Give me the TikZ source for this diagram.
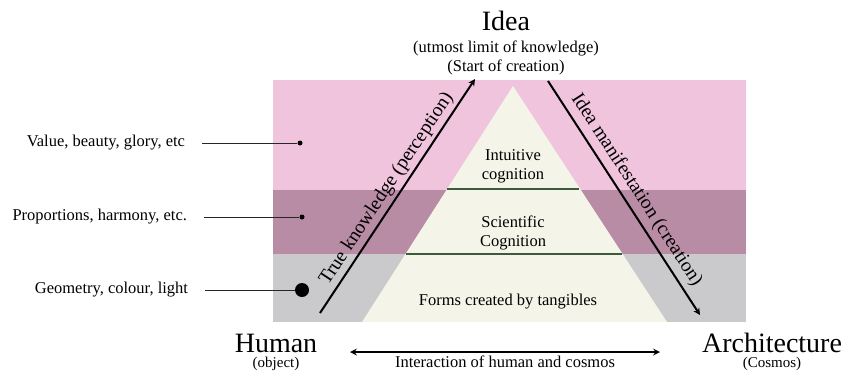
\documentclass[tikz,border=0pt]{standalone}
\usepackage{fontspec}
\setmainfont{Liberation Serif}
\usetikzlibrary{arrows,positioning}

\definecolor{toppink}{HTML}{EFC4DC}
\definecolor{midmauve}{HTML}{B98CA5}
\definecolor{lowgrey}{HTML}{CACACD}
\definecolor{cream}{HTML}{F4F5E8}
\definecolor{layergreen}{HTML}{3C5A3C}

\begin{document}
\begin{tikzpicture}[
	x = 1pt, y = -1pt, % pixel-like units, y downwards
	> = stealth, % arrow head style
	T/.style={inner sep=0pt, font=\fontsize{28}{30}\selectfont},                 % big titles
	S/.style={inner sep=0pt, font=\fontsize{15}{17}\selectfont},                 % small captions
	L/.style={inner sep=1pt, outer xsep=16pt, font=\fontsize{16.5}{18}\selectfont}, % level labels
	C/.style={inner sep=0pt, align=center, font=\fontsize{16.5}{19}\selectfont},  % text in pyramid
	R/.style={sloped, above, font=\fontsize{19.5}{21}\selectfont},               % text along arrows
	dot/.style={circle, fill=black, inner sep=0pt, minimum size=5pt},
	bigdot/.style={circle, fill=black, inner sep=0pt, minimum size=14pt},
	pointer/.style={semithick, black!85},
	flow/.style={->, line width=2pt},
	layer/.style={line width=1.5pt, layergreen},
	]
	\useasboundingbox (0,0) rectangle (845,376);

	% Coloured bands
	\fill[toppink]  (273,80)  rectangle (746,190);
	\fill[midmauve] (273,190) rectangle (746,254);
	\fill[lowgrey]  (273,254) rectangle (746,322);

	% Pyramid
	\coordinate (apex) at (513,86);
	\coordinate (bl) at (362,322);
	\coordinate (br) at (667,322);
	\fill[cream] (apex) -- (bl) -- (br) -- cycle;
	\coordinate (l1) at (447,189);
	\coordinate (r1) at (579,189);
	\coordinate (l2) at (406,254);
	\coordinate (r2) at (622,254);
	\draw[layer] (l1) -- (r1);
	\draw[layer] (l2) -- (r2);
	\node[C] (intu) at (513,166) {Intuitive\\cognition};
	\node[C] (scie) at (513,233) {Scientific\\Cognition};
	\node[C] (form) at (508,302) {Forms created by tangibles};

	% Levels on the left
	\node[dot] (d1) at (300,143) {};
	\node[dot] (d2) at (302,217) {};
	\node[bigdot] (d3) at (302,290) {};
	\node[L, anchor=east] (v1) at (202,143) {Value, beauty, glory, etc};
	\node[L, anchor=east] (v2) at (204,217) {Proportions, harmony, etc.};
	\node[L, anchor=east] (v3) at (205,290) {Geometry, colour, light};
	\draw[pointer] (v1) -- (d1);
	\draw[pointer] (v2) -- (d2);
	\draw[pointer] (v3) -- (d3);

	% Top and corners
	\node[T, anchor=base] (idea) at (506,30) {Idea};
	\node[C] (limit) [below = 10pt of idea] {(utmost limit of knowledge)};
	\node[C] (start) [below = 4pt of limit] {(Start of creation)};
	\node[T, anchor=base] (hum) at (276,352) {Human};
	\node[S] (obj) [below = 4pt of hum] {(object)};
	\node[T, anchor=base] (arch) at (772,352) {Architecture};
	\node[S] (cos) [below = 4pt of arch] {(Cosmos)};

	% Arrows
	\coordinate (hs) at (320,313);
	\coordinate (it) at (475,79);
	\coordinate (is) at (548,81);
	\coordinate (ae) at (700,315);
	\coordinate (il) at (350,352);
	\coordinate (ir) at (660,352);
	\path[flow] (hs) edge node[R, inner sep=3pt] {True knowledge (perception)} (it);
	\path[flow] (is) edge node[R, inner sep=5pt] {Idea manifestation (creation)} (ae);
	\path[flow, <->] (il) edge node[C, below=3pt] {Interaction of human and cosmos} (ir);

\end{tikzpicture}
\end{document}
